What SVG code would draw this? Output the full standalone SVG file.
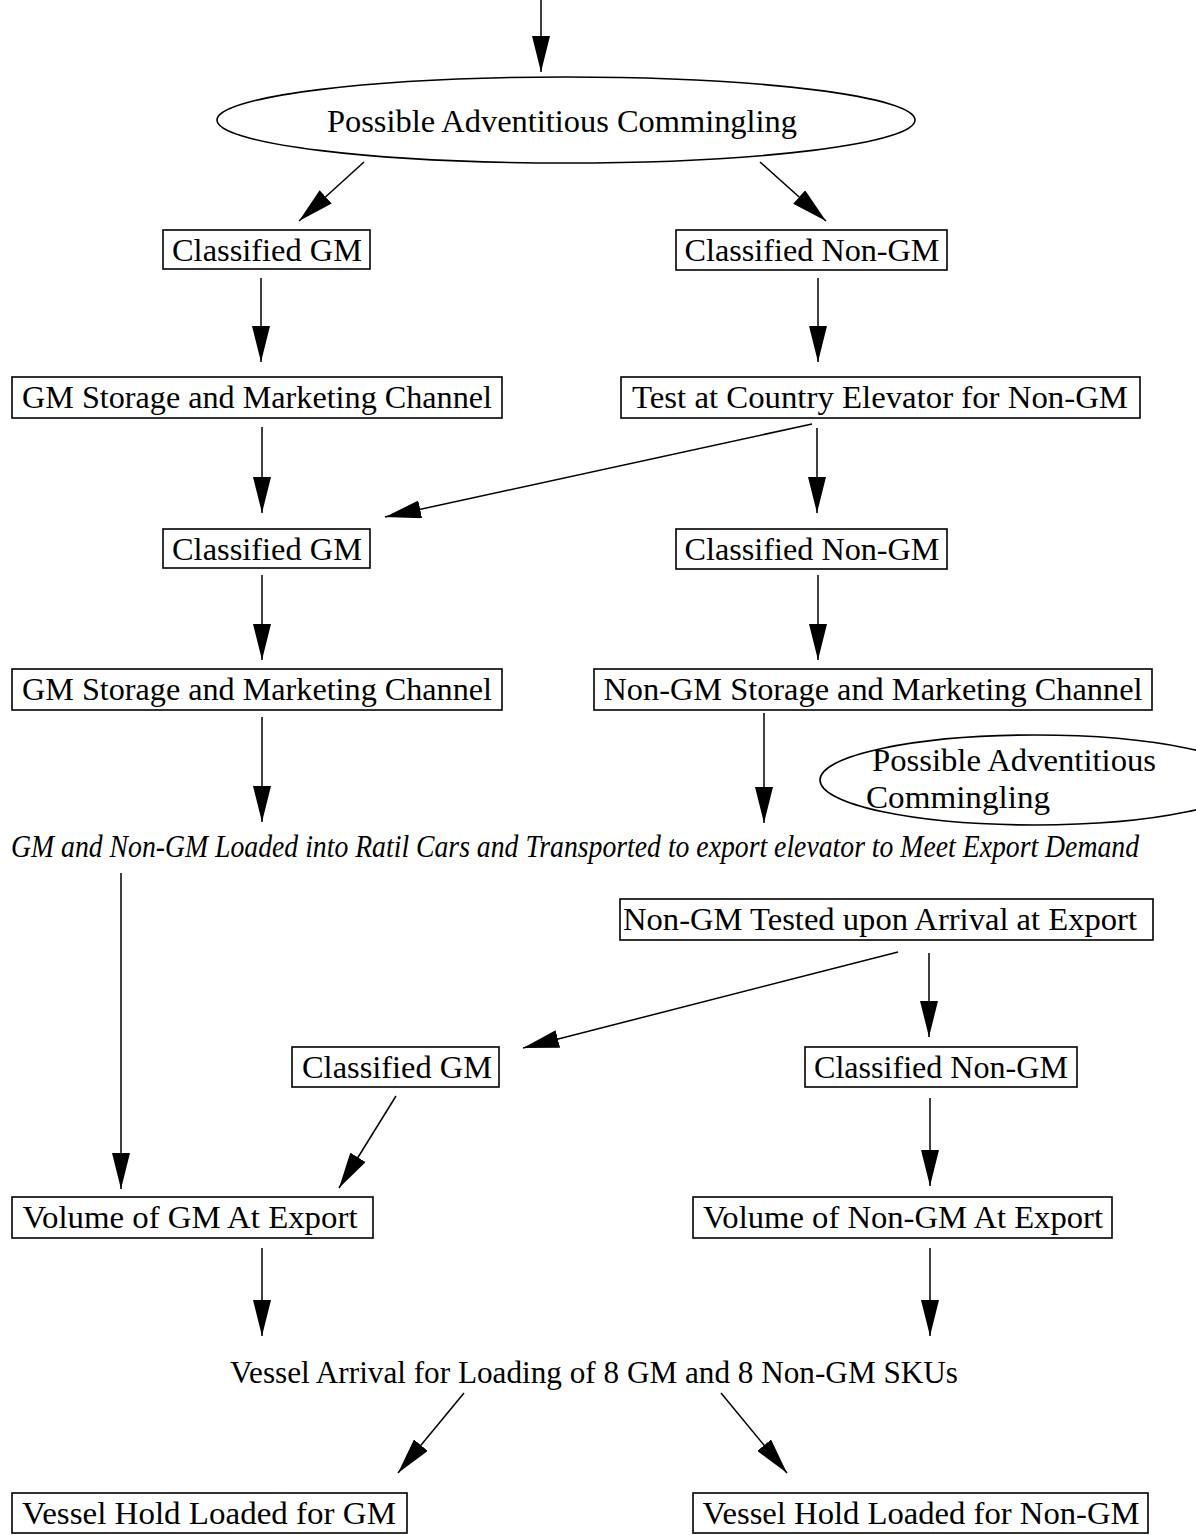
<svg xmlns="http://www.w3.org/2000/svg" width="1196" height="1535" viewBox="0 0 1196 1535">
<defs>
<marker id="ah" markerUnits="userSpaceOnUse" markerWidth="37" markerHeight="18" refX="36" refY="9" orient="auto">
<path d="M0,0 L36,9 L0,18 z" fill="#000"/>
</marker>
<style>
rect, ellipse { fill: #fff; stroke: #000; stroke-width: 1.6; }
text { font-family: "Liberation Serif", "Times New Roman", serif; font-size: 32px; fill: #000; }
.c { text-anchor: middle; }
.it { font-style: italic; }
.e line { stroke: #000; stroke-width: 1.5; marker-end: url(#ah); }
</style>
</defs>
<rect x="0" y="0" width="1196" height="1535" style="fill:#fff;stroke:none"/>
<g class="e" id="connectors">
<line x1="541" y1="0" x2="541" y2="72"/>
<line x1="364" y1="162" x2="299" y2="221"/>
<line x1="760" y1="162" x2="826" y2="221"/>
<line x1="261" y1="278" x2="261" y2="362"/>
<line x1="818" y1="278" x2="818" y2="362"/>
<line x1="262" y1="427" x2="262" y2="513"/>
<line x1="812" y1="424" x2="385" y2="517"/>
<line x1="817" y1="428" x2="817" y2="513"/>
<line x1="262" y1="575" x2="262" y2="660"/>
<line x1="818" y1="575" x2="818" y2="660"/>
<line x1="262" y1="717" x2="262" y2="822"/>
<line x1="764" y1="713" x2="764" y2="823"/>
<line x1="121" y1="873" x2="121" y2="1189"/>
<line x1="898" y1="952" x2="523" y2="1048"/>
<line x1="929" y1="953" x2="929" y2="1037"/>
<line x1="396" y1="1096" x2="339" y2="1188"/>
<line x1="930" y1="1098" x2="930" y2="1186"/>
<line x1="262" y1="1248" x2="262" y2="1336"/>
<line x1="930" y1="1248" x2="930" y2="1336"/>
<line x1="464" y1="1393" x2="398" y2="1473"/>
<line x1="721" y1="1393" x2="787" y2="1473"/>
</g>
<g id="pac1"><ellipse cx="566" cy="120" rx="349" ry="43"/><text x="562" y="132" class="c" textLength="470" lengthAdjust="spacingAndGlyphs">Possible Adventitious Commingling</text></g>
<g id="cgm1"><rect x="163" y="230" width="207" height="39"/><text x="267" y="261" class="c" textLength="190" lengthAdjust="spacingAndGlyphs">Classified GM</text></g>
<g id="cngm1"><rect x="676" y="230" width="271" height="40"/><text x="812" y="261" class="c" textLength="255" lengthAdjust="spacingAndGlyphs">Classified Non-GM</text></g>
<g id="gms1"><rect x="12" y="377" width="490" height="41"/><text x="257" y="408" class="c" textLength="470" lengthAdjust="spacingAndGlyphs">GM Storage and Marketing Channel</text></g>
<g id="test"><rect x="621" y="377" width="519" height="41"/><text x="880" y="408" class="c" textLength="496" lengthAdjust="spacingAndGlyphs">Test at Country Elevator for Non-GM</text></g>
<g id="cgm2"><rect x="163" y="529" width="207" height="39"/><text x="267" y="560" class="c" textLength="190" lengthAdjust="spacingAndGlyphs">Classified GM</text></g>
<g id="cngm2"><rect x="676" y="529" width="271" height="40"/><text x="812" y="560" class="c" textLength="255" lengthAdjust="spacingAndGlyphs">Classified Non-GM</text></g>
<g id="gms2"><rect x="12" y="669" width="490" height="41"/><text x="257" y="700" class="c" textLength="470" lengthAdjust="spacingAndGlyphs">GM Storage and Marketing Channel</text></g>
<g id="ngms"><rect x="594" y="669" width="558" height="41"/><text x="873" y="700" class="c" textLength="539" lengthAdjust="spacingAndGlyphs">Non-GM Storage and Marketing Channel</text></g>
<g id="pac2"><ellipse cx="1035" cy="780" rx="215" ry="45"/><text x="872" y="771" textLength="284" lengthAdjust="spacingAndGlyphs">Possible Adventitious</text><text x="866" y="808" textLength="184" lengthAdjust="spacingAndGlyphs">Commingling</text></g>
<g id="loaded"><text x="11" y="857" class="it" textLength="1128" lengthAdjust="spacingAndGlyphs">GM and Non-GM Loaded into Ratil Cars and Transported to export elevator to Meet Export Demand</text></g>
<g id="ngmt"><rect x="620" y="899" width="533" height="41"/><text x="880" y="930" class="c" textLength="514" lengthAdjust="spacingAndGlyphs">Non-GM Tested upon Arrival at Export</text></g>
<g id="cgm3"><rect x="292" y="1047" width="207" height="40"/><text x="397" y="1078" class="c" textLength="190" lengthAdjust="spacingAndGlyphs">Classified GM</text></g>
<g id="cngm3"><rect x="805" y="1047" width="272" height="40"/><text x="941" y="1078" class="c" textLength="254" lengthAdjust="spacingAndGlyphs">Classified Non-GM</text></g>
<g id="vgm"><rect x="12" y="1197" width="361" height="41"/><text x="190" y="1228" class="c" textLength="335" lengthAdjust="spacingAndGlyphs">Volume of GM At Export</text></g>
<g id="vngm"><rect x="693" y="1197" width="419" height="41"/><text x="903" y="1228" class="c" textLength="400" lengthAdjust="spacingAndGlyphs">Volume of Non-GM At Export</text></g>
<g id="arrival"><text x="594" y="1383" class="c" textLength="728" lengthAdjust="spacingAndGlyphs">Vessel Arrival for Loading of 8 GM and 8 Non-GM SKUs</text></g>
<g id="vhgm"><rect x="12" y="1493" width="395" height="40"/><text x="209" y="1524" class="c" textLength="374" lengthAdjust="spacingAndGlyphs">Vessel Hold Loaded for GM</text></g>
<g id="vhngm"><rect x="693" y="1493" width="455" height="40"/><text x="921" y="1524" class="c" textLength="437" lengthAdjust="spacingAndGlyphs">Vessel Hold Loaded for Non-GM</text></g>
</svg>
